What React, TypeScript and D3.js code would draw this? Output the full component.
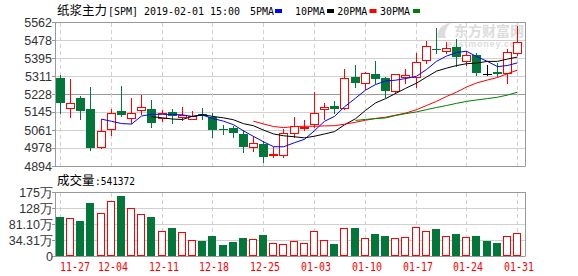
import React from "react";
import * as d3 from "d3";

// ---- data ----
const opens = [5301, 5162, 5208, 5157, 4981, 5064, 5149, 5115, 5152, 5158, 5115, 5144, 5123, 5112, 5134, 5123, 5065, 5072, 5042, 4984, 4996, 4947, 4945, 5046, 5073, 5087, 5157, 5172, 5162, 5305, 5278, 5321, 5301, 5243, 5309, 5308, 5386, 5436, 5429, 5445, 5382, 5409, 5321, 5329, 5324, 5417];
const highs = [5316, 5298, 5219, 5259, 5111, 5158, 5265, 5209, 5223, 5200, 5154, 5157, 5166, 5151, 5162, 5141, 5084, 5080, 5061, 5033, 5011, 4984, 5064, 5120, 5107, 5239, 5185, 5197, 5344, 5363, 5332, 5381, 5308, 5320, 5343, 5417, 5475, 5533, 5471, 5483, 5429, 5420, 5363, 5373, 5435, 5543];
const lows = [5141, 5123, 5113, 4968, 4978, 5038, 5126, 5092, 5135, 5076, 5104, 5095, 5107, 5111, 5113, 5030, 5042, 5027, 4960, 4965, 4914, 4937, 4937, 5027, 5061, 5076, 5111, 5138, 5157, 5262, 5251, 5278, 5213, 5234, 5280, 5262, 5373, 5417, 5417, 5358, 5363, 5316, 5316, 5312, 5281, 5409];
const closes = [5188, 5185, 5150, 4979, 5055, 5138, 5132, 5138, 5166, 5095, 5138, 5127, 5131, 5127, 5128, 5061, 5063, 5049, 4984, 4999, 4937, 4949, 5046, 5080, 5077, 5138, 5166, 5160, 5301, 5278, 5324, 5296, 5243, 5319, 5316, 5378, 5451, 5434, 5440, 5398, 5409, 5327, 5321, 5320, 5424, 5471];
// volume in 万
const volumes = [102.6, 99.7, 90, 142.8, 112.6, 148.6, 163.3, 128.1, 109.7, 102.6, 60.7, 70.4, 57.8, 33.5, 31.4, 47, 20.6, 29.4, 41.1, 37.3, 49, 25.6, 22.7, 30.6, 25.6, 60.7, 33.5, 22.7, 69.5, 70.4, 40.2, 52, 46.1, 40.2, 43.2, 72.5, 60.7, 67.5, 46.1, 52, 43.2, 46.1, 31.4, 25.6, 46.1, 54.1372];

const dateLabels = ["11-27", "12-04", "12-11", "12-18", "12-25", "01-03", "01-10", "01-17", "01-24", "01-31"];
const dateLabelIndex = [0, 5, 10, 15, 20, 25, 30, 35, 40, 45];
const priceTicks = [5562, 5478, 5395, 5311, 5228, 5145, 5061, 4978, 4894];
const volTickValues = [-12.5, 34.31, 81.1, 128, 175];
const volTickLabels = ["0", "34.31万", "81.10万", "128万", "175万"];
const maPeriods = [5, 10, 20, 30];
const maColors = ["#0000ff", "#000000", "#ff0000", "#008000"];
const maNames = ["5PMA", "10PMA", "20PMA", "30PMA"];

const titleCn = "纸浆主力";
const titleEn = "[SPM] 2019-02-01 15:00";
const volTitle = "成交量";
const volValue = ":541372";

const RED = "#ff0000";
const GREEN = "#03773a";
const GRID = "#d0d0d0";
const FRAME = "#999999";
const MONO = "'DejaVu Sans Mono', 'Liberation Mono', monospace";
const CJK = "'Noto Sans CJK SC', sans-serif";
const SANS = "'Liberation Sans', Arial, sans-serif";

export default function App() {
  const W = 578, H = 276;
  const L = 55, R = 525;
  const pTop = 22, pBot = 166;
  const vTop = 192, vBot = 256;
  const n = closes.length;

  const x = d3.scaleBand<number>().domain(d3.range(n)).range([54.9, 522.2]);
  const cx = (i: number) => Math.round((x(i) as number) + x.bandwidth() / 2);
  const yP = d3.scaleLinear().domain([4894, 5562]).range([pBot, pTop]);
  const yV = d3.scaleLinear().domain([volTickValues[0], 175]).range([vBot, vTop]);

  const mas = maPeriods.map((p) =>
    closes.map((_, i) => (i < p - 1 ? null : (d3.mean(closes.slice(i - p + 1, i + 1)) as number)))
  );
  const line = d3
    .line<number | null>()
    .defined((d) => d != null)
    .x((_, i) => cx(i) + 0.5)
    .y((d) => yP(d as number));

  const legendX = [250, 295, 337.3, 380];
  const legendRectX = [275, 327, 369.5, 413];

  return (
    <svg width={W} height={H} style={{ position: "absolute", left: 0, top: 0, background: "#fff" }}>
      {/* title */}
      <text x={57} y={14.5} fontFamily={CJK} fontSize={12.5} fill="#000">{titleCn}</text>
      <text x={108} y={14.5} fontFamily={MONO} fontSize={10.5} fill="#000" textLength={132} lengthAdjust="spacingAndGlyphs">{titleEn}</text>
      {maNames.map((m, k) => (
        <text key={"lt" + k} x={legendX[k]} y={14.5} fontFamily={MONO} fontSize={10.5} fill="#000" textLength={m.length * 6} lengthAdjust="spacingAndGlyphs">{m}</text>
      ))}
      {maColors.map((c, k) => (
        <rect key={"lr" + k} x={legendRectX[k]} y={9} width={7} height={4} fill={c} />
      ))}

      {/* price grid */}
      {priceTicks.map((t, k) => (
        <g key={t}>
          <line x1={L} x2={R} y1={Math.round(yP(t)) + 0.5} y2={Math.round(yP(t)) + 0.5}
            stroke={k === 0 || k === priceTicks.length - 1 ? FRAME : k === 4 ? "#999" : GRID} />
          <line x1={L - 3} x2={L} y1={Math.round(yP(t)) + 0.5} y2={Math.round(yP(t)) + 0.5} stroke={FRAME} />
          <text x={52} y={yP(t) + 4.5} textAnchor="end" fontFamily={SANS} fontSize={12.5} fill="#333">{t}</text>
        </g>
      ))}
      {dateLabelIndex.map((i) => (
        <g key={"vg" + i}>
          <line x1={cx(i) + 0.5} x2={cx(i) + 0.5} y1={pTop + 1} y2={pBot} stroke={GRID} strokeDasharray="4,3" />
          <line x1={cx(i) + 0.5} x2={cx(i) + 0.5} y1={vTop + 1} y2={vBot} stroke={GRID} strokeDasharray="4,3" />
        </g>
      ))}
      <line x1={L + 0.5} x2={L + 0.5} y1={pTop} y2={pBot + 0.5} stroke={FRAME} />
      <line x1={R + 0.5} x2={R + 0.5} y1={pTop} y2={pBot + 0.5} stroke={FRAME} />

      {/* watermark */}
      <text x={454} y={35.5} fontFamily={CJK} fontSize={14} fontWeight="bold" fill="#dcdcdc">东方财富网</text>
      <text x={447} y={46.5} fontFamily={SANS} fontSize={9} fontWeight="bold" fill="#dcdcdc" textLength={77}>eastmoney.com</text>
      <path d="M438,38 C436,30 442,24 451,23 C446,27 444,32 446,38 Z" fill="#dcdcdc" />

      {/* candles */}
      {closes.map((c, i) => {
        const o = opens[i];
        const X = cx(i);
        const up = c > o;
        const flat = c === o;
        const col = flat ? "#000" : up ? RED : GREEN;
        const top = Math.round(yP(Math.max(o, c)));
        const bot = Math.round(yP(Math.min(o, c)));
        const hi = Math.round(yP(highs[i]));
        const lo = Math.round(yP(lows[i]));
        if (up) {
          return (
            <g key={i}>
              <line x1={X + 0.5} x2={X + 0.5} y1={hi} y2={top} stroke={col} />
              <line x1={X + 0.5} x2={X + 0.5} y1={bot + 1} y2={lo + 1} stroke={col} />
              <rect x={X - 3.5} y={top + 0.5} width={8} height={Math.max(bot - top, 1)} fill="#fff" stroke={col} />
            </g>
          );
        }
        return (
          <g key={i}>
            <line x1={X + 0.5} x2={X + 0.5} y1={hi} y2={lo + 1} stroke={col} />
            <rect x={X - 4} y={top} width={9} height={Math.max(bot - top, 1)} fill={col} />
          </g>
        );
      })}

      {/* moving averages */}
      {mas.map((m, k) => (
        <path key={k} d={line(m) || ""} fill="none" stroke={maColors[k]} strokeWidth={1} />
      ))}

      {/* volume title */}
      <text x={57} y={185} fontFamily={CJK} fontSize={12.5} fill="#000">{volTitle}</text>
      <text x={95} y={185} fontFamily={MONO} fontSize={10.5} fill="#000" textLength={40} lengthAdjust="spacingAndGlyphs">{volValue}</text>

      {/* volume grid */}
      {volTickValues.map((t, k) => (
        <g key={"v" + k}>
          <line x1={L} x2={R} y1={Math.round(yV(t)) + 0.5} y2={Math.round(yV(t)) + 0.5}
            stroke={k === 0 || k === volTickValues.length - 1 ? FRAME : GRID} />
          <line x1={L - 3} x2={L} y1={Math.round(yV(t)) + 0.5} y2={Math.round(yV(t)) + 0.5} stroke={FRAME} />
          <text x={53} y={yV(t) + 4.5} textAnchor="end" fontFamily={SANS} fontSize={12.5} fill="#333">{volTickLabels[k]}</text>
        </g>
      ))}
      <line x1={L + 0.5} x2={L + 0.5} y1={vTop} y2={vBot + 0.5} stroke={FRAME} />
      <line x1={R + 0.5} x2={R + 0.5} y1={vTop} y2={vBot + 0.5} stroke={FRAME} />

      {/* volume bars */}
      {volumes.map((v, i) => {
        const up = closes[i] > opens[i];
        const X = cx(i);
        const top = Math.round(yV(v));
        return up ? (
          <rect key={i} x={X - 3.5} y={top + 0.5} width={7} height={vBot - top - 1} fill="#fff" stroke={RED} />
        ) : (
          <rect key={i} x={X - 4} y={top} width={8} height={vBot - top} fill={GREEN} />
        );
      })}

      {/* date labels */}
      {dateLabelIndex.map((i, k) => (
        <text key={"d" + k} x={k === 0 ? cx(i) : cx(i) + 2} y={271} textAnchor={k === 0 ? "start" : "middle"}
          fontFamily={MONO} fontSize={12} fill={RED} textLength={30} lengthAdjust="spacingAndGlyphs">
          {dateLabels[k]}
        </text>
      ))}
    </svg>
  );
}
